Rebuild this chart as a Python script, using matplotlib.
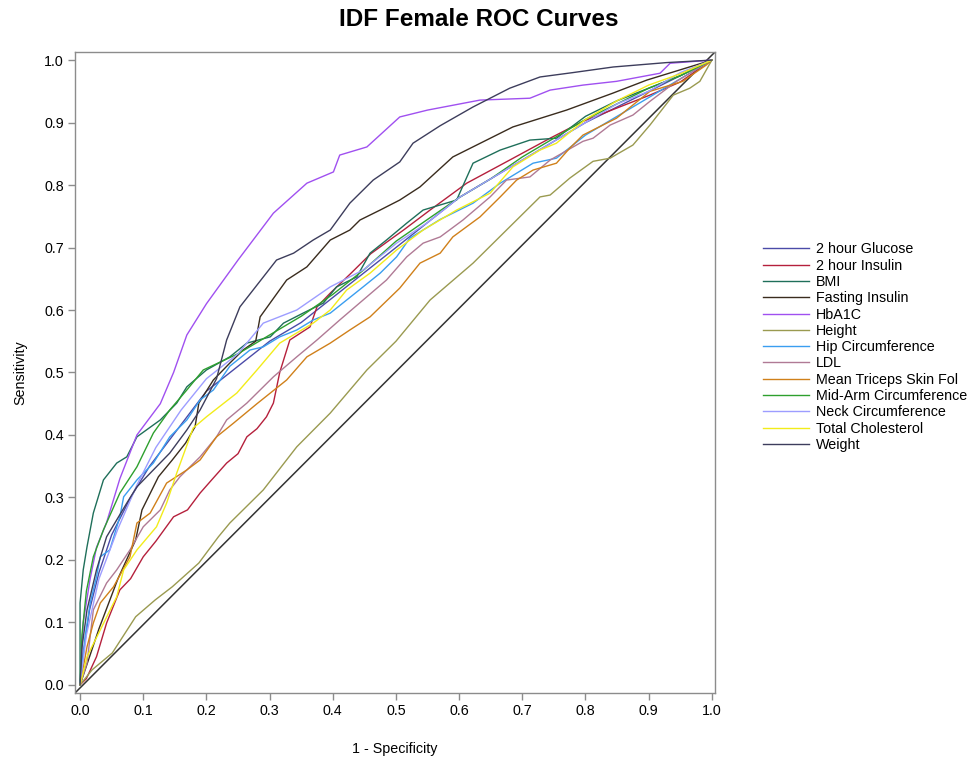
import matplotlib
matplotlib.use("Agg")
import matplotlib.pyplot as plt

plt.rcParams['font.family'] = ['Liberation Sans', 'DejaVu Sans']

# --- ROC curves (x = 1 - specificity, y = sensitivity) ---
glucose2h_x = [0, 0.005, 0.015, 0.03, 0.05, 0.08, 0.11, 0.14, 0.17, 0.2, 0.25, 0.3, 0.35, 0.4, 0.45, 0.5, 0.55, 0.6, 0.65, 0.7, 0.75, 0.8, 0.85, 0.9, 0.95, 1.0]
glucose2h_y = [0, 0.05, 0.12, 0.18, 0.24, 0.30, 0.35, 0.39, 0.43, 0.47, 0.51, 0.55, 0.58, 0.62, 0.66, 0.70, 0.74, 0.78, 0.81, 0.84, 0.87, 0.90, 0.925, 0.95, 0.975, 1.0]

insulin2h_x = [0, 0.01, 0.026, 0.042, 0.063, 0.08, 0.1, 0.12, 0.148, 0.17, 0.19, 0.21, 0.232, 0.25, 0.264, 0.28, 0.295, 0.306, 0.316, 0.332, 0.364, 0.375, 0.396, 0.43, 0.46, 0.49, 0.512, 0.554, 0.612, 0.68, 0.744, 0.796, 0.849, 0.902, 0.95, 0.981, 1.0]
insulin2h_y = [0, 0.01, 0.045, 0.099, 0.152, 0.17, 0.205, 0.23, 0.269, 0.28, 0.307, 0.33, 0.355, 0.37, 0.397, 0.41, 0.429, 0.451, 0.50, 0.552, 0.573, 0.605, 0.627, 0.66, 0.69, 0.712, 0.728, 0.76, 0.803, 0.84, 0.875, 0.902, 0.923, 0.944, 0.965, 0.987, 1.0]

bmi_x = [0, 0.0, 0.005, 0.011, 0.021, 0.037, 0.058, 0.074, 0.09, 0.127, 0.153, 0.169, 0.2, 0.237, 0.264, 0.301, 0.322, 0.353, 0.385, 0.406, 0.438, 0.459, 0.485, 0.517, 0.543, 0.596, 0.622, 0.665, 0.712, 0.754, 0.8, 0.85, 0.9, 0.95, 1.0]
bmi_y = [0, 0.131, 0.184, 0.221, 0.275, 0.328, 0.355, 0.365, 0.397, 0.424, 0.451, 0.477, 0.504, 0.525, 0.547, 0.557, 0.579, 0.595, 0.611, 0.637, 0.653, 0.691, 0.712, 0.739, 0.76, 0.776, 0.835, 0.856, 0.872, 0.875, 0.91, 0.935, 0.955, 0.975, 1.0]

fasting_x = [0, 0.01, 0.03, 0.06, 0.088, 0.098, 0.124, 0.146, 0.167, 0.182, 0.188, 0.211, 0.237, 0.258, 0.278, 0.285, 0.327, 0.359, 0.396, 0.427, 0.443, 0.475, 0.506, 0.538, 0.59, 0.685, 0.77, 0.843, 0.897, 1.0]
fasting_y = [0, 0.03, 0.09, 0.17, 0.232, 0.28, 0.333, 0.36, 0.387, 0.413, 0.451, 0.488, 0.515, 0.536, 0.55, 0.589, 0.648, 0.669, 0.712, 0.728, 0.744, 0.76, 0.776, 0.797, 0.845, 0.893, 0.92, 0.947, 0.968, 1.0]

hba1c_x = [0, 0.005, 0.016, 0.026, 0.042, 0.063, 0.09, 0.127, 0.148, 0.169, 0.2, 0.25, 0.306, 0.359, 0.401, 0.411, 0.454, 0.506, 0.55, 0.633, 0.712, 0.744, 0.796, 0.849, 0.918, 0.934, 1.0]
hba1c_y = [0, 0.10, 0.17, 0.22, 0.26, 0.33, 0.40, 0.45, 0.50, 0.56, 0.61, 0.68, 0.755, 0.803, 0.821, 0.848, 0.861, 0.909, 0.92, 0.936, 0.939, 0.952, 0.96, 0.966, 0.979, 0.995, 1.0]

height_x = [0, 0.019, 0.051, 0.088, 0.119, 0.146, 0.188, 0.219, 0.237, 0.29, 0.343, 0.396, 0.454, 0.5, 0.554, 0.622, 0.675, 0.728, 0.744, 0.775, 0.812, 0.839, 0.875, 0.902, 0.939, 0.965, 0.981, 1.0]
height_y = [0, 0.024, 0.051, 0.109, 0.136, 0.157, 0.195, 0.237, 0.259, 0.312, 0.381, 0.435, 0.504, 0.55, 0.616, 0.675, 0.728, 0.781, 0.784, 0.811, 0.838, 0.843, 0.864, 0.896, 0.944, 0.955, 0.966, 1.0]

hip_x = [0, 0.008, 0.016, 0.026, 0.032, 0.047, 0.063, 0.069, 0.09, 0.116, 0.142, 0.169, 0.19, 0.211, 0.237, 0.269, 0.29, 0.316, 0.343, 0.369, 0.396, 0.422, 0.448, 0.475, 0.501, 0.522, 0.57, 0.622, 0.665, 0.717, 0.754, 0.8, 0.85, 0.9, 0.95, 1.0]
hip_y = [0, 0.077, 0.131, 0.173, 0.205, 0.216, 0.269, 0.301, 0.328, 0.355, 0.397, 0.424, 0.456, 0.472, 0.51, 0.536, 0.541, 0.557, 0.568, 0.584, 0.595, 0.616, 0.637, 0.659, 0.685, 0.715, 0.745, 0.771, 0.803, 0.835, 0.843, 0.88, 0.91, 0.94, 0.97, 1.0]

ldl_x = [0, 0.011, 0.021, 0.042, 0.058, 0.079, 0.1, 0.127, 0.142, 0.158, 0.19, 0.216, 0.232, 0.264, 0.306, 0.343, 0.375, 0.411, 0.448, 0.485, 0.517, 0.543, 0.57, 0.606, 0.649, 0.675, 0.712, 0.744, 0.796, 0.812, 0.839, 0.875, 0.902, 0.944, 0.986, 1.0]
ldl_y = [0, 0.035, 0.12, 0.163, 0.184, 0.216, 0.253, 0.28, 0.312, 0.333, 0.365, 0.397, 0.424, 0.451, 0.493, 0.525, 0.552, 0.584, 0.616, 0.648, 0.685, 0.707, 0.717, 0.744, 0.781, 0.808, 0.813, 0.84, 0.87, 0.875, 0.896, 0.912, 0.934, 0.966, 0.992, 1.0]

triceps_x = [0, 0.011, 0.021, 0.032, 0.053, 0.079, 0.09, 0.111, 0.137, 0.169, 0.19, 0.216, 0.243, 0.28, 0.327, 0.359, 0.396, 0.427, 0.459, 0.506, 0.538, 0.57, 0.59, 0.633, 0.665, 0.691, 0.717, 0.754, 0.775, 0.796, 0.849, 0.902, 0.954, 0.991, 1.0]
triceps_y = [0, 0.061, 0.099, 0.131, 0.157, 0.205, 0.259, 0.275, 0.323, 0.344, 0.36, 0.397, 0.419, 0.45, 0.488, 0.525, 0.547, 0.568, 0.589, 0.635, 0.675, 0.691, 0.717, 0.749, 0.781, 0.808, 0.824, 0.835, 0.859, 0.88, 0.907, 0.95, 0.966, 0.992, 1.0]

midarm_x = [0, 0.003, 0.01, 0.021, 0.037, 0.063, 0.09, 0.116, 0.142, 0.169, 0.195, 0.25, 0.3, 0.35, 0.4, 0.45, 0.5, 0.55, 0.6, 0.65, 0.7, 0.75, 0.8, 0.85, 0.9, 0.95, 1.0]
midarm_y = [0, 0.08, 0.15, 0.205, 0.248, 0.307, 0.349, 0.403, 0.44, 0.472, 0.504, 0.53, 0.56, 0.59, 0.625, 0.665, 0.71, 0.745, 0.78, 0.81, 0.845, 0.875, 0.905, 0.93, 0.955, 0.975, 1.0]

neck_x = [0, 0.01, 0.03, 0.06, 0.09, 0.12, 0.16, 0.2, 0.25, 0.29, 0.343, 0.396, 0.448, 0.501, 0.55, 0.6, 0.65, 0.7, 0.75, 0.8, 0.85, 0.9, 0.95, 1.0]
neck_y = [0, 0.08, 0.17, 0.25, 0.32, 0.38, 0.44, 0.49, 0.53, 0.579, 0.60, 0.637, 0.664, 0.707, 0.74, 0.78, 0.81, 0.84, 0.87, 0.90, 0.93, 0.95, 0.98, 1.0]

chol_x = [0, 0.005, 0.011, 0.032, 0.058, 0.069, 0.09, 0.121, 0.137, 0.153, 0.179, 0.2, 0.248, 0.28, 0.316, 0.369, 0.396, 0.422, 0.459, 0.501, 0.543, 0.596, 0.649, 0.685, 0.728, 0.754, 0.8, 0.85, 0.9, 0.95, 1.0]
chol_y = [0, 0.02, 0.045, 0.088, 0.141, 0.184, 0.216, 0.253, 0.291, 0.339, 0.411, 0.429, 0.467, 0.504, 0.547, 0.579, 0.60, 0.632, 0.659, 0.696, 0.728, 0.76, 0.787, 0.829, 0.856, 0.867, 0.905, 0.935, 0.96, 0.978, 1.0]

weight_x = [0, 0.003, 0.011, 0.026, 0.042, 0.074, 0.09, 0.116, 0.142, 0.169, 0.19, 0.216, 0.232, 0.253, 0.311, 0.338, 0.369, 0.396, 0.427, 0.464, 0.506, 0.527, 0.57, 0.622, 0.68, 0.728, 0.78, 0.844, 0.928, 1.0]
weight_y = [0, 0.06, 0.12, 0.184, 0.237, 0.291, 0.317, 0.344, 0.371, 0.408, 0.44, 0.49, 0.552, 0.605, 0.68, 0.691, 0.712, 0.728, 0.771, 0.808, 0.837, 0.867, 0.895, 0.925, 0.955, 0.973, 0.98, 0.989, 0.996, 1.0]

labels = ['2 hour Glucose', '2 hour Insulin', 'BMI', 'Fasting Insulin', 'HbA1C', 'Height',
          'Hip Circumference', 'LDL', 'Mean Triceps Skin Fol', 'Mid-Arm Circumference',
          'Neck Circumference', 'Total Cholesterol', 'Weight']
colors = ['#4b4ba8', '#b5203c', '#1f6f5a', '#3a2c1e', '#a050f0', '#9a9a50',
          '#3a9ef0', '#b07a95', '#d0801a', '#2ea02e', '#9d9dff', '#f2ec1a', '#3d3d5c']
xs = [glucose2h_x, insulin2h_x, bmi_x, fasting_x, hba1c_x, height_x, hip_x, ldl_x,
      triceps_x, midarm_x, neck_x, chol_x, weight_x]
ys = [glucose2h_y, insulin2h_y, bmi_y, fasting_y, hba1c_y, height_y, hip_y, ldl_y,
      triceps_y, midarm_y, neck_y, chol_y, weight_y]

fig = plt.figure(figsize=(9.78, 7.6), dpi=100)
ax = fig.add_axes([0.0767, 0.0882, 0.6544, 0.8434])

# chance line
ax.plot([-0.008, 1.005], [-0.013, 1.013], color='#333333', lw=1.1, zorder=1)

handles = []
for x, y, c, lab in zip(xs, ys, colors, labels):
    h, = ax.plot(x, y, color=c, lw=1.0, label=lab, zorder=2)
    handles.append(h)

ax.set_xlim(-0.008, 1.005)
ax.set_ylim(-0.013, 1.013)
ticks = [0.0, 0.1, 0.2, 0.3, 0.4, 0.5, 0.6, 0.7, 0.8, 0.9, 1.0]
ax.set_xticks(ticks)
ax.set_yticks(ticks)
ax.set_xticklabels([f'{t:.1f}' for t in ticks], fontsize=10.3)
ax.set_yticklabels([f'{t:.1f}' for t in ticks], fontsize=10.3)
ax.tick_params(direction='out', length=5, color='#8c8c8c', width=1, pad=3)
for s in ax.spines.values():
    s.set_color('#8c8c8c')
    s.set_linewidth(1)

ax.set_xlabel('1 - Specificity', fontsize=10.3, labelpad=17)
ax.set_ylabel('Sensitivity', fontsize=10.3, labelpad=12)

fig.text(0.49, 0.99, 'IDF Female ROC Curves', ha='center', va='top',
         fontsize=17.5, fontweight='bold')

fig.legend(handles=handles, loc='upper left', bbox_to_anchor=(0.780, 0.681),
           frameon=False, fontsize=10.3, handlelength=3.2, handletextpad=0.5,
           labelspacing=0.16, borderpad=0, borderaxespad=0)

fig.savefig('out.png', dpi=100)
